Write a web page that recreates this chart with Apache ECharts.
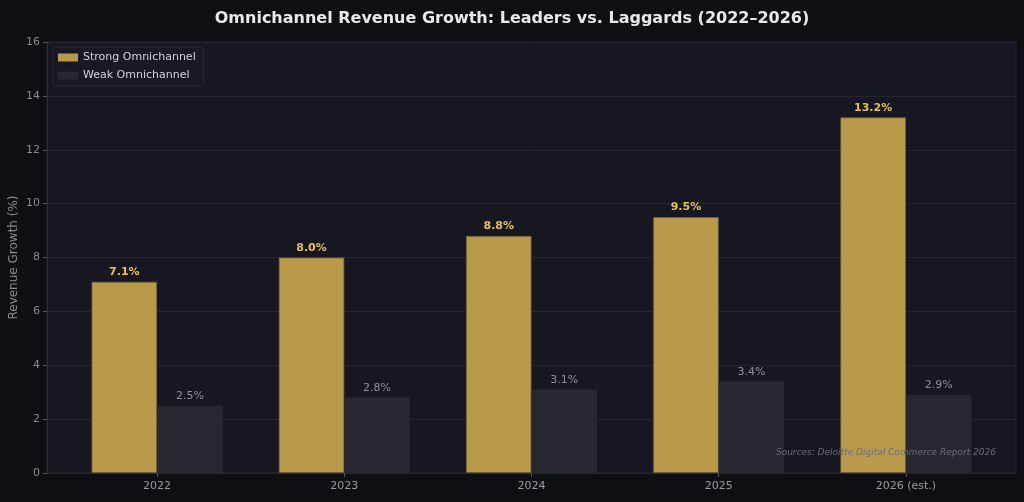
<!DOCTYPE html>
<html><head><meta charset="utf-8">
<script src="https://cdn.jsdelivr.net/npm/echarts@6/dist/echarts.min.js"></script>
<style>html,body{margin:0;padding:0;background:#0e0f13;}#c{width:1024px;height:502px;}</style>
</head><body><div id="c"></div>
<script>
const categories = ['2022', '2023', '2024', '2025', '2026 (est.)'];
const strongValues = [7.1, 8.0, 8.8, 9.5, 13.2];
const weakValues = [2.5, 2.8, 3.1, 3.4, 2.9];
const yTicks = { min: 0, max: 16, interval: 2 };

const chart = echarts.init(document.getElementById('c'), null, { renderer: 'canvas' });
const font = 'DejaVu Sans';
chart.setOption({
  backgroundColor: '#0e0f13',
  textStyle: { fontFamily: font },
  animation: false,
  title: {
    text: 'Omnichannel Revenue Growth: Leaders vs. Laggards (2022\u20132026)',
    left: 'center', top: 6,
    textStyle: { color: '#e8e8ec', fontSize: 16, fontWeight: 'bold', fontFamily: font }
  },
  legend: {
    orient: 'vertical', left: 53, top: 47,
    data: ['Strong Omnichannel', 'Weak Omnichannel'],
    backgroundColor: '#181922', borderColor: '#2a2b36', borderWidth: 1, borderRadius: 3,
    padding: [5, 8, 5, 5], itemWidth: 20, itemHeight: 8, itemGap: 7, icon: 'rect',
    itemStyle: { borderWidth: 0 },
    textStyle: { color: '#d2d2da', fontSize: 11, fontFamily: font }
  },
  grid: [
    { left: 47, right: 8, top: 42, bottom: 29, show: true, backgroundColor: '#161720', borderColor: '#262733', borderWidth: 1, outerBoundsMode: 'none', containLabel: false },
    { left: 63.5, right: 24.5, top: 42, bottom: 29, outerBoundsMode: 'none', containLabel: false }
  ],
  xAxis: [
    { gridIndex: 0, type: 'value', min: 0, max: 1, show: false },
    { gridIndex: 1, type: 'category', data: categories,
      axisLine: { show: false },
      axisTick: { show: true, alignWithLabel: true, length: 4, lineStyle: { color: '#55565f' } },
      axisLabel: { color: '#9a9aa4', fontSize: 11, margin: 8 } }
  ],
  yAxis: [
    { gridIndex: 0, type: 'value', min: yTicks.min, max: yTicks.max, interval: yTicks.interval,
      axisLine: { show: true, lineStyle: { color: '#2a2b36' } },
      axisTick: { show: true, length: 4, lineStyle: { color: '#55565f' } },
      axisLabel: { color: '#8a8a95', fontSize: 11, margin: 7 },
      splitLine: { show: true, lineStyle: { color: '#252631', width: 1 } } },
    { gridIndex: 1, type: 'value', min: yTicks.min, max: yTicks.max, show: false, splitLine: { show: false } }
  ],
  series: [
    { name: 'Strong Omnichannel', type: 'bar', xAxisIndex: 1, yAxisIndex: 1, data: strongValues,
      barGap: '0%', barCategoryGap: '30%',
      itemStyle: { color: '#b89a4a', borderColor: '#6e5f36', borderWidth: 0.8 },
      label: { show: true, position: 'top', distance: 4, formatter: p => p.value.toFixed(1) + '%',
        color: '#e8c05a', fontSize: 11, fontWeight: 'bold' } },
    { name: 'Weak Omnichannel', type: 'bar', xAxisIndex: 1, yAxisIndex: 1, data: weakValues,
      itemStyle: { color: '#272730' },
      label: { show: true, position: 'top', distance: 4, formatter: p => p.value.toFixed(1) + '%',
        color: '#8e8e98', fontSize: 11 } }
  ],
  graphic: [
    { type: 'text', x: 14, y: 257.5, rotation: Math.PI / 2, z: 100,
      style: { text: 'Revenue Growth (%)', fill: '#8a8a95', font: '12px "DejaVu Sans"',
        align: 'center', verticalAlign: 'middle' } },
    { type: 'text', right: 28, top: 448, z: 100,
      style: { text: 'Sources: Deloitte Digital Commerce Report 2026', fill: '#6c6c78',
        font: 'italic 9px "DejaVu Sans"' } }
  ]
});
</script></body></html>
